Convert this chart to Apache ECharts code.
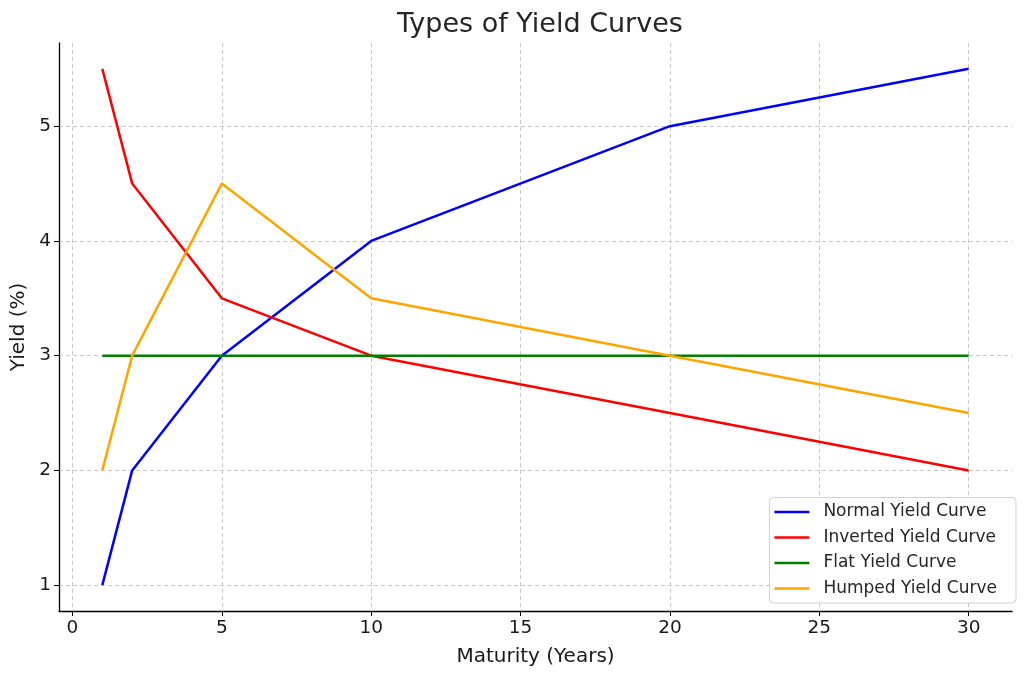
<!DOCTYPE html>
<html><head><meta charset="utf-8">
<script src="https://cdn.jsdelivr.net/npm/echarts@6/dist/echarts.min.js"></script>
<style>html,body{margin:0;padding:0;background:#fff}#c{width:1024px;height:677px}</style>
</head><body><div id="c"></div>
<script>
const maturities = [1, 2, 5, 10, 20, 30];
const normalYield = [1, 2, 3, 4, 5, 5.5];
const invertedYield = [5.5, 4.5, 3.5, 3, 2.5, 2];
const flatYield = [3, 3, 3, 3, 3, 3];
const humpedYield = [2, 3, 4.5, 3.5, 3, 2.5];
const xTicks = [0, 5, 10, 15, 20, 25, 30];
const yTicks = [1, 2, 3, 4, 5];
const seriesNames = ['Normal Yield Curve', 'Inverted Yield Curve', 'Flat Yield Curve', 'Humped Yield Curve'];
const seriesColors = ['#0000ff', '#ff0000', '#008000', '#ffa500'];
const seriesData = [normalYield, invertedYield, flatYield, humpedYield];

const font = 'DejaVu Sans';
const chart = echarts.init(document.getElementById('c'), null, {renderer: 'canvas'});
chart.setOption({
  animation: false,
  textStyle: {fontFamily: font},
  title: {text: 'Types of Yield Curves', left: 392, top: 6,
    textStyle: {fontFamily: font, fontSize: 27, fontWeight: 'normal', color: '#262626'}},
  grid: {left: 59, right: 12, top: 43, bottom: 66},
  legend: {
    orient: 'vertical', right: 8, bottom: 74,
    backgroundColor: '#fff', borderColor: '#d0d0d0', borderWidth: 1, borderRadius: 4,
    padding: [6, 19, 6, 5], itemGap: 8.5, itemWidth: 35, itemHeight: 2.5,
    icon: 'rect',
    textStyle: {fontFamily: font, fontSize: 17, color: '#262626', padding: [0, 0, 0, 9]},
    data: seriesNames
  },
  xAxis: {
    type: 'value', min: -0.45, max: 31.45,
    name: 'Maturity (Years)', nameLocation: 'middle', nameGap: 36,
    nameTextStyle: {fontFamily: font, fontSize: 20, color: '#1a1a1a'},
    axisLine: {show: true, onZero: false, lineStyle: {color: '#000', width: 1.3}},
    axisTick: {show: true, length: 5, lineStyle: {color: '#000'}, customValues: xTicks},
    axisLabel: {fontFamily: font, fontSize: 18.5, color: '#1a1a1a', margin: 8, customValues: xTicks},
    splitLine: {show: true, lineStyle: {color: '#c8c8c8', type: [4, 3], width: 1}, customValues: xTicks}
  },
  yAxis: {
    type: 'value', min: 0.775, max: 5.725,
    name: 'Yield (%)', nameLocation: 'middle', nameGap: 29, nameRotate: 90,
    nameTextStyle: {fontFamily: font, fontSize: 20, color: '#1a1a1a'},
    axisLine: {show: true, onZero: false, lineStyle: {color: '#000', width: 1.3}},
    axisTick: {show: true, length: 5, lineStyle: {color: '#000'}, customValues: yTicks},
    axisLabel: {fontFamily: font, fontSize: 18.5, color: '#1a1a1a', margin: 8, customValues: yTicks},
    splitLine: {show: true, lineStyle: {color: '#c8c8c8', type: [4, 3], width: 1}, customValues: yTicks}
  },
  series: seriesNames.map((n, i) => ({
    name: n, type: 'line', symbol: 'none', color: seriesColors[i],
    lineStyle: {width: 2.5, color: seriesColors[i]},
    data: maturities.map((m, j) => [m, seriesData[i][j]])
  }))
});
</script></body></html>
